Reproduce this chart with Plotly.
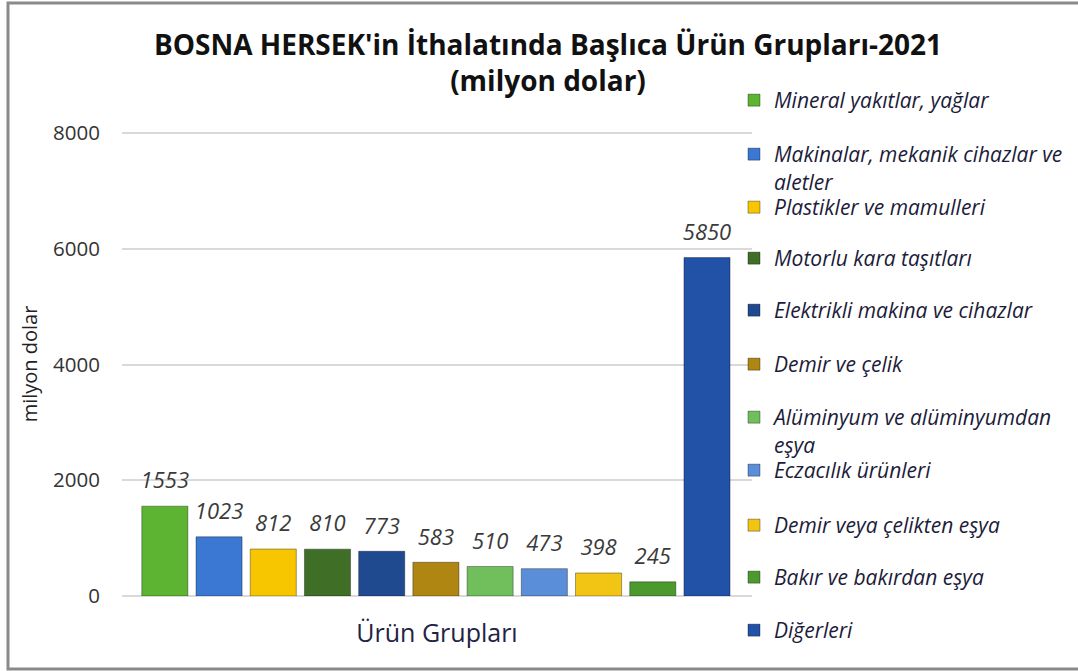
import plotly.graph_objects as go

categories = [
    "Mineral yakıtlar, yağlar",
    "Makinalar, mekanik cihazlar ve<br>aletler",
    "Plastikler ve mamulleri",
    "Motorlu kara taşıtları",
    "Elektrikli makina ve cihazlar",
    "Demir ve çelik",
    "Alüminyum ve alüminyumdan<br>eşya",
    "Eczacılık ürünleri",
    "Demir veya çelikten eşya",
    "Bakır ve bakırdan eşya",
    "Diğerleri",
]
values = [1553, 1023, 812, 810, 773, 583, 510, 473, 398, 245, 5850]
colors = ["#5DB332", "#3A78D4", "#F7C600", "#3F6E26", "#1F4A90",
          "#B08612", "#70BE5C", "#5A8ED8", "#F2C414", "#4C9A2E", "#2152A8"]
y_ticks = [0, 2000, 4000, 6000, 8000]

# layout geometry (pixels)
W, H = 1078, 671
ML, MR, MT, MB = 122, 326, 132, 75
PH = H - MT - MB
PW = W - ML - MR


def py(px):  # page pixel y -> paper y
    return (H - MB - px) / PH


def pxx(px):  # page pixel x -> paper x
    return (px - ML) / PW


legend_rows_px = [96, 150, 203, 254, 306, 360, 413, 466, 521, 573, 626]

fig = go.Figure()
layout_legends = {}
for i, (cat, val, col) in enumerate(zip(categories, values, colors)):
    lname = "legend" if i == 0 else f"legend{i + 1}"
    fig.add_trace(go.Bar(
        x=[i], y=[val], name=cat, legend=lname,
        marker=dict(color=col, line=dict(color="rgba(0,0,0,0.35)", width=1)),
        width=0.85,
    ))
    layout_legends[lname] = dict(
        x=pxx(734), xanchor="left", y=py(legend_rows_px[i] - 16), yanchor="top",
        valign="top", itemwidth=30, bgcolor="rgba(0,0,0,0)",
        font=dict(family="Open Sans", size=21, color="#1c1c3a", style="italic"),
    )

# value labels above the bars
fig.add_trace(go.Scatter(
    x=list(range(len(values))), y=values, mode="markers+text",
    text=[str(v) for v in values], textposition="top center",
    marker=dict(size=18, opacity=0), showlegend=False, hoverinfo="skip",
    cliponaxis=False,
    textfont=dict(family="Open Sans", size=22, color="#3a3a3a", style="italic"),
))

fig.update_layout(
    width=W, height=H,
    paper_bgcolor="white", plot_bgcolor="white",
    barmode="overlay",
    margin=dict(l=ML, r=MR, t=MT, b=MB, autoexpand=False),
    title=dict(
        text="<b>BOSNA HERSEK'in İthalatında Başlıca Ürün Grupları-2021<br>(milyon dolar)</b>",
        x=548 / W, xanchor="center", y=1 - 55 / H, yanchor="top",
        xref="container", yref="container",
        font=dict(family="Open Sans", size=28, color="#111111"),
    ),
    xaxis=dict(range=[-0.79, 10.83], showticklabels=False, showgrid=False, zeroline=False,
               showline=False, ticks="",
               title=dict(text="Ürün Grupları", standoff=28,
                          font=dict(family="Open Sans", size=25, color="#222244"))),
    yaxis=dict(range=[0, 8020], tickvals=y_ticks, showgrid=True, gridcolor="#d9d9d9",
               gridwidth=1.5, zeroline=True, zerolinecolor="#d9d9d9", zerolinewidth=1.5,
               ticks="", ticklabelstandoff=21,
               tickfont=dict(family="Open Sans", size=20.5, color="#333333"),
               title=dict(text="milyon dolar", standoff=10,
                          font=dict(family="Open Sans", size=20, color="#222222"))),
    showlegend=True,
    shapes=[dict(type="rect", xref="paper", yref="paper",
                 x0=pxx(8), x1=pxx(1085), y0=py(669), y1=py(3),
                 line=dict(color="#8a8a8a", width=3), fillcolor="rgba(0,0,0,0)", layer="below")],
    **layout_legends,
)

fig.write_html("out.html", config={"displayModeBar": False},
               post_script="document.body.style.margin='0';")
